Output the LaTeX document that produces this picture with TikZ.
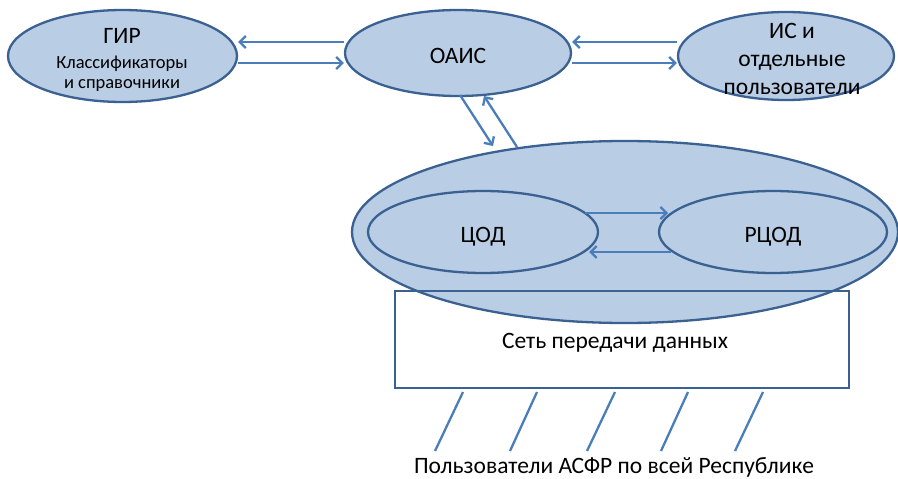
\documentclass[tikz,border=0pt]{standalone}
\usepackage{fontspec}
\setmainfont{Carlito}
\usetikzlibrary{shapes.geometric,arrows.meta}
\definecolor{fillb}{HTML}{B9CDE5}
\definecolor{edgeb}{HTML}{3B6192}
\definecolor{arrb}{HTML}{4A7EBB}
\begin{document}
\begin{tikzpicture}[x=1pt,y=-1pt,
  ell/.style={ellipse, draw=edgeb, fill=fillb, line width=2.3pt, inner sep=0pt},
  arr/.style={draw=arrb, line width=2.3pt, -{Straight Barb[length=6pt,width=12pt]}},
  plainline/.style={draw=arrb, line width=2.3pt},
  big/.style={font=\fontsize{23.5}{28}\selectfont, inner sep=0pt, anchor=base},
  small/.style={font=\fontsize{18.5}{22}\selectfont, inner sep=0pt, anchor=base}]
\useasboundingbox (0,0) rectangle (898,479);
% top row
\node[ell, minimum width=229pt, minimum height=92pt] (gir) at (122.5,56) {};
\node[ell, minimum width=226pt, minimum height=86pt] (oais) at (458,53) {};
\node[ell, minimum width=216pt, minimum height=88pt] (is) at (786,56) {};
\node[big] (tgir) at (122,43.5) {ГИР};
\node[small] (tklass) at (122,68.3) {Классификаторы};
\node[small] (tsprav) at (122,88) {и справочники};
\node[big] (toais) at (458,63) {ОАИС};
\node[big] (tis1) at (792,38.3) {ИС и};
\node[big] (tis2) at (792,66.7) {отдельные};
\node[big] (tis3) at (792,94) {пользователи};
% big ellipse and inner ellipses
\node[ell, minimum width=546pt, minimum height=182pt] (cloud) at (625,232) {};
\node[ell, minimum width=230pt, minimum height=82pt] (cod) at (483,232) {};
\node[ell, minimum width=228pt, minimum height=82pt] (rcod) at (773,232) {};
\node[big] (tcod) at (483,242) {ЦОД};
\node[big] (trcod) at (773,242) {РЦОД};
% network box
\node[draw=edgeb, line width=2.3pt, minimum width=454pt, minimum height=97pt, inner sep=0pt] (net) at (622,339.5) {};
\node[big] (tnet) at (615,348) {Сеть передачи данных};
\node[big] (tusers) at (614,473) {Пользователи АСФР по всей Республике};
% arrows top row
\draw[arr] (oais.west |- 0,42) -- (gir.east |- 0,42);
\draw[arr] (gir.east |- 0,63) -- (oais.west |- 0,63);
\draw[arr] (is.west |- 0,42) -- (oais.east |- 0,42);
\draw[arr] (oais.east |- 0,63) -- (is.west |- 0,63);
% OAIS <-> cloud
\coordinate (d1s) at (460,95);
\coordinate (d1e) at (493,146);
\coordinate (d2s) at (517,147);
\coordinate (d2e) at (484,96);
\draw[arr] (d1s) -- (d1e);
\draw[arr] (d2s) -- (d2e);
% COD <-> RCOD
\coordinate (c1s) at (585,213);
\coordinate (c1e) at (668,213);
\coordinate (c2s) at (671,252);
\coordinate (c2e) at (589,252);
\draw[arr] (c1s) -- (c1e);
\draw[arr] (c2s) -- (c2e);
% user lines
\foreach \i/\xt/\xb in {1/463/435, 2/537/510, 3/615/587, 4/688/661, 5/763/735} {
  \coordinate (u\i t) at (\xt,392);
  \coordinate (u\i b) at (\xb,451);
  \draw[plainline] (u\i t) -- (u\i b);
}
\end{tikzpicture}
\end{document}
